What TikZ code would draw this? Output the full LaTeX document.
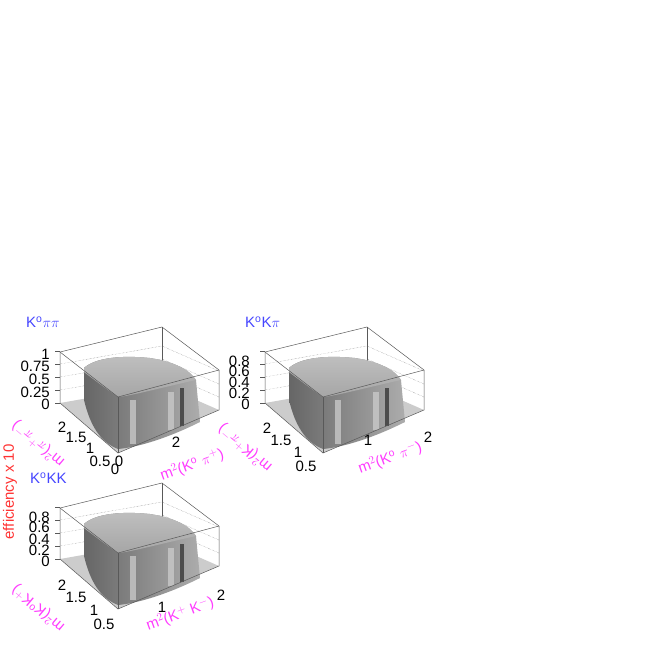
\documentclass[tikz,border=0pt]{standalone}
\usepackage{fontspec}
\setmainfont{Liberation Sans}
\usetikzlibrary{positioning}
\definecolor{titleblue}{RGB}{70, 70, 255}
\definecolor{axmag}{RGB}{255, 60, 255}
\definecolor{effred}{RGB}{255, 50, 50}

\tikzset{
  frame/.style={gray!70!black, line width=0.5pt},
  grid/.style={gray, densely dotted, line width=0.4pt},
  tick/.style={font=\fontsize{15}{15}\selectfont, inner sep=0pt},
  axlabel/.style={axmag, font=\fontsize{15}{15}\selectfont, inner sep=0pt},
  title/.style={titleblue, font=\fontsize{15}{15}\selectfont, inner sep=0pt}
}

% box and surface of one panel, in pixels from the panel origin
\newcommand{\lego}{%
  % floor
  \fill[gray!40] (60,403) -- (118,453) -- (219,410) -- (162,385) -- cycle;
  % back walls
  \draw[frame] (60,352) -- (162,327) -- (219,370);
  \draw[frame] (162,327) -- (162,385);
  \foreach \z in {13,26,39} {
    \draw[grid] (60,403-\z) -- (162,385-\z) -- (219,410-\z);
  }
  % surface, front face
  \shade[left color=gray!80!black, right color=gray!65] (84,368)
    .. controls (95,358) and (120,355) .. (150,358)
    .. controls (175,362) and (190,370) .. (196,380) -- (200,422)
    .. controls (170,437) and (140,447) .. (118,449)
    .. controls (100,442) and (90,425) .. (84,400) -- cycle;
  \shade[top color=gray!50, bottom color=gray!70] (84,368)
    .. controls (95,358) and (120,355) .. (150,358)
    .. controls (175,362) and (190,370) .. (196,380)
    .. controls (160,388) and (130,396) .. (118,397)
    .. controls (105,388) and (92,378) .. (84,372) -- cycle;
  \fill[gray!50] (168,392) rectangle (174,430);
  \fill[gray!60!black] (180,388) rectangle (184,426);
  \fill[gray!55] (130,400) rectangle (136,444);
  % front edges
  \draw[frame] (60,352) -- (60,403) -- (118,453) -- (219,410) -- (219,370);
  \draw[frame] (60,352) -- (118,397) -- (219,370);
  \draw[frame] (118,397) -- (118,453);
  \foreach \z in {0,13,26,39,52} \draw[frame] (55,403-\z) -- (60,403-\z);
}

\begin{document}
\begin{tikzpicture}[x=1pt, y=-1pt]
\useasboundingbox (0,0) rectangle (654,654);

% K0 pi pi
\begin{scope}
  \lego
  \node[title, anchor=west] (t1) at (26,322) {K$^\mathrm{o}\pi\pi$};
  \foreach \v/\y in {1/354,0.75/366,0.5/379,0.25/392,0/404}
    \node[tick, anchor=east] at (50,\y) {\v};
  \foreach \v/\x/\y in {2/62/427,1.5/76/437,1/90/448,0.5/100/461,0/115/469}
    \node[tick] at (\x,\y) {\v};
  \node[tick] at (119,461) {0};
  \node[tick] at (176,442) {2};
  \node[axlabel, rotate=20] (x1) at (192,465) {m$^2$(K$^\mathrm{o}$ $\pi^+$)};
  \node[axlabel, rotate=140] (y1) at (38,444) {m$^2$($\pi^+\pi^-$)};
\end{scope}

% K0 K pi
\begin{scope}[shift={(205,0)}]
  \lego
  \node[title, anchor=west] (t2) at (40,322) {K$^\mathrm{o}$K$\pi$};
  \foreach \v/\y in {0.8/361,0.6/371,0.4/382,0.2/393,0/404}
    \node[tick, anchor=east] at (45,\y) {\v};
  \foreach \v/\x/\y in {2/62/428,1.5/76/440,1/93/452,0.5/101/466}
    \node[tick] at (\x,\y) {\v};
  \node[tick] at (163,440) {1};
  \node[tick] at (223,437) {2};
  \node[axlabel, rotate=20] (x2) at (185,458) {m$^2$(K$^\mathrm{o}$ $\pi^-$)};
  \node[axlabel, rotate=140] (y2) at (40,448) {m$^2$(K$^+\pi^-$)};
\end{scope}

% K0 K K
\begin{scope}[shift={(0,156)}]
  \lego
  \node[title, anchor=west] (t3) at (30,322) {K$^\mathrm{o}$KK};
  \foreach \v/\y in {0.8/361,0.6/371,0.4/383,0.2/394,0/405}
    \node[tick, anchor=east] at (50,\y) {\v};
  \foreach \v/\x/\y in {2/62/429,1.5/76/441,1/94/454,0.5/104/468}
    \node[tick] at (\x,\y) {\v};
  \node[tick] at (162,451) {1};
  \node[tick] at (221,439) {2};
  \node[axlabel, rotate=20] (x3) at (180,458) {m$^2$(K$^+$ K$^-$)};
  \node[axlabel, rotate=140] (y3) at (38,452) {m$^2$(K$^\mathrm{o}$K$^+$)};
\end{scope}

\node[effred, rotate=90, font=\fontsize{15}{15}\selectfont] (eff) at (10,492) {efficiency x 10};
\end{tikzpicture}
\end{document}
